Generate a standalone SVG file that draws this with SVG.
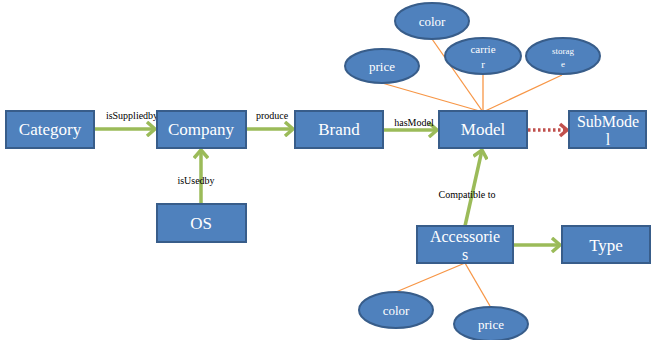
<svg xmlns="http://www.w3.org/2000/svg" width="652" height="340" viewBox="0 0 652 340">
<style>
.box{fill:#4f81bd;stroke:#385d8a;stroke-width:2}
.ell{fill:#4f81bd;stroke:#385d8a;stroke-width:2}
.t{fill:#ffffff;text-anchor:middle}
.lab{fill:#000000;text-anchor:middle}
.g{stroke:#9bbb59;stroke-width:3.5;fill:none}
.o{stroke:#f79646;stroke-width:1.3;fill:none}
.r{stroke:#c0504d;stroke-width:3.5;fill:none;stroke-dasharray:2.5 2.5}
</style>
<defs>
<marker id="ag" markerUnits="userSpaceOnUse" markerWidth="16" markerHeight="16" refX="11" refY="8" orient="auto">
<path d="M3,1 L11,8 L3,15" fill="none" stroke="#9bbb59" stroke-width="3.5"/>
</marker>
<marker id="ar" markerUnits="userSpaceOnUse" markerWidth="16" markerHeight="16" refX="11" refY="8" orient="auto">
<path d="M4,2 L11,8 L4,14" fill="none" stroke="#c0504d" stroke-width="3.5"/>
</marker>
</defs>
<g id="connectors">
<line class="g" x1="94" y1="129" x2="155" y2="129" marker-end="url(#ag)"/>
<line class="g" x1="246" y1="129" x2="293" y2="129" marker-end="url(#ag)"/>
<line class="g" x1="383" y1="130" x2="437" y2="130" marker-end="url(#ag)"/>
<line class="g" x1="201" y1="204" x2="201" y2="150" marker-end="url(#ag)"/>
<line class="r" x1="528" y1="130" x2="567" y2="130" marker-end="url(#ar)"/>
<line class="g" x1="465" y1="226" x2="482" y2="150" marker-end="url(#ag)"/>
<line class="g" x1="513" y1="245" x2="560" y2="245" marker-end="url(#ag)"/>
<line class="o" x1="382" y1="83" x2="483" y2="112"/>
<line class="o" x1="432" y1="39" x2="483" y2="112"/>
<line class="o" x1="483" y1="75" x2="483" y2="112"/>
<line class="o" x1="562" y1="75" x2="483" y2="112"/>
<line class="o" x1="465" y1="263" x2="396" y2="292"/>
<line class="o" x1="465" y1="263" x2="490" y2="306"/>
<text class="lab" font-family="Liberation Serif, serif" font-size="10" x="132" y="119">isSuppliedby</text>
<text class="lab" font-family="Liberation Serif, serif" font-size="10" x="272" y="119">produce</text>
<text class="lab" font-family="Liberation Serif, serif" font-size="10" x="414" y="126">hasModel</text>
<text class="lab" font-family="Liberation Serif, serif" font-size="10" x="196" y="184">isUsedby</text>
<text class="lab" font-family="Liberation Serif, serif" font-size="10" x="467" y="198">Compatible to</text>
</g>
<g id="category"><rect class="box" x="6" y="111" width="88" height="37"/><text class="t" font-family="Liberation Serif, serif" font-size="17" x="50" y="135">Category</text></g>
<g id="company"><rect class="box" x="157" y="111" width="89" height="37"/><text class="t" font-family="Liberation Serif, serif" font-size="17" x="201" y="135">Company</text></g>
<g id="brand"><rect class="box" x="295" y="111" width="88" height="37"/><text class="t" font-family="Liberation Serif, serif" font-size="17" x="339" y="135">Brand</text></g>
<g id="os"><rect class="box" x="157" y="204" width="89" height="38"/><text class="t" font-family="Liberation Serif, serif" font-size="17" x="201" y="229">OS</text></g>
<g id="model"><rect class="box" x="439" y="111" width="88" height="37"/><text class="t" font-family="Liberation Serif, serif" font-size="17" x="483" y="135">Model</text></g>
<g id="submodel"><rect class="box" x="569" y="111" width="77" height="37"/><text class="t" font-family="Liberation Serif, serif" font-size="16" x="608" y="127">SubMode</text><text class="t" font-family="Liberation Serif, serif" font-size="16" x="608" y="145">l</text></g>
<g id="accessories"><rect class="box" x="417" y="226" width="96" height="37"/><text class="t" font-family="Liberation Serif, serif" font-size="16" x="465" y="242">Accessorie</text><text class="t" font-family="Liberation Serif, serif" font-size="16" x="465" y="260">s</text></g>
<g id="type"><rect class="box" x="562" y="226" width="88" height="37"/><text class="t" font-family="Liberation Serif, serif" font-size="17" x="606" y="251">Type</text></g>
<g id="color-model"><ellipse class="ell" cx="432" cy="21" rx="37" ry="18"/><text class="t" font-family="Liberation Serif, serif" font-size="13" x="432" y="26">color</text></g>
<g id="price-model"><ellipse class="ell" cx="382" cy="66" rx="37" ry="17"/><text class="t" font-family="Liberation Serif, serif" font-size="13" x="382" y="71">price</text></g>
<g id="carrier"><ellipse class="ell" cx="483" cy="56" rx="38" ry="18"/><text class="t" font-family="Liberation Serif, serif" font-size="11" x="483" y="53">carrie</text><text class="t" font-family="Liberation Serif, serif" font-size="11" x="483" y="68">r</text></g>
<g id="storage"><ellipse class="ell" cx="563" cy="56" rx="37" ry="18"/><text class="t" font-family="Liberation Serif, serif" font-size="9" x="563" y="54">storag</text><text class="t" font-family="Liberation Serif, serif" font-size="9" x="563" y="67">e</text></g>
<g id="color-acc"><ellipse class="ell" cx="396" cy="310" rx="37" ry="18"/><text class="t" font-family="Liberation Serif, serif" font-size="13" x="396" y="315">color</text></g>
<g id="price-acc"><ellipse class="ell" cx="491" cy="324" rx="37" ry="17"/><text class="t" font-family="Liberation Serif, serif" font-size="13" x="491" y="329">price</text></g>
</svg>
